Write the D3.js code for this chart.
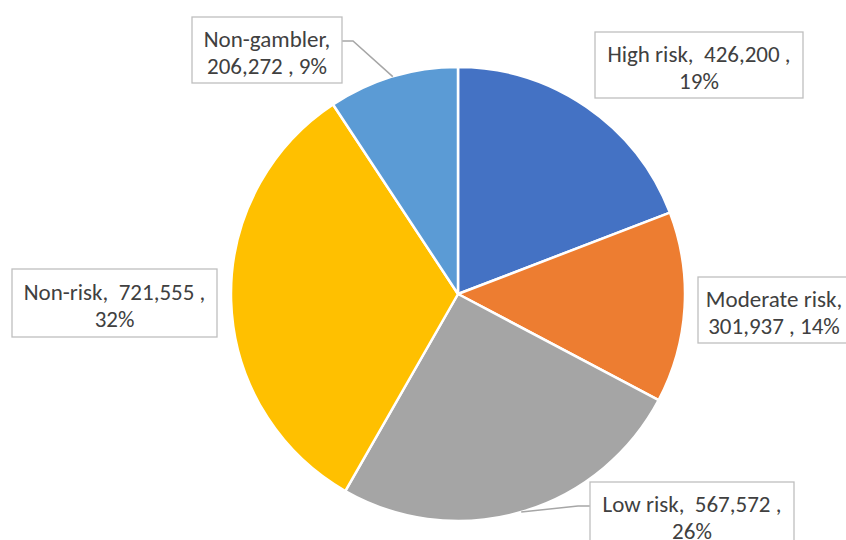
<!DOCTYPE html>
<html>
<head>
<meta charset="utf-8">
<script src="https://cdn.jsdelivr.net/npm/d3@7/dist/d3.min.js"></script>
<style>
  html, body { margin: 0; padding: 0; background: #fff; }
  svg { display: block; }
</style>
</head>
<body>
<svg id="chart" width="846" height="540"></svg>
<script>
// Gambler risk groups (people) and their slice colours
const categories = ["High risk", "Moderate risk", "Low risk", "Non-risk", "Non-gambler"];
const values = [426200, 301937, 567572, 721555, 206272];
const percentLabels = ["19%", "14%", "26%", "32%", "9%"];
const colors = ["#4472C4", "#ED7D31", "#A5A5A5", "#FFC000", "#5B9BD5"];

// Label box placement relative to the pie centre (box centre offset, size),
// and whether a leader line joins the box to its slice.
const labelLayout = [
  { dx: 241, dy: -229, w: 208, h: 66, leader: false },
  { dx: 316, dy: 16, w: 152, h: 66, leader: false },
  { dx: 234, dy: 221, w: 204, h: 66, leader: true, side: "left" },
  { dx: -343.5, dy: 9, w: 205, h: 68, leader: false },
  { dx: -191, dy: -244, w: 150, h: 66, leader: true, side: "right" }
];

const width = 846, height = 540;
const cx = 458, cy = 294, radius = 227;
const fontFamily = "Carlito, Calibri, Lato, 'Open Sans', sans-serif";
const fontSize = 23;
const lineGap = 27;

const svg = d3.select("#chart");
const fmt = d3.format(",");

const pie = d3.pie().sort(null).value(d => d)(values);
const arc = d3.arc().innerRadius(0).outerRadius(radius);

const g = svg.append("g").attr("transform", `translate(${cx},${cy})`);

g.selectAll("path.slice")
  .data(pie)
  .join("path")
  .attr("class", "slice")
  .attr("d", arc)
  .attr("fill", d => colors[d.index])
  .attr("stroke", "#fff")
  .attr("stroke-width", 2.5)
  .attr("stroke-linejoin", "round");

// Point on the rim at a slice's middle angle
function rimPoint(d) {
  const a = (d.startAngle + d.endAngle) / 2;
  return [radius * Math.sin(a), -radius * Math.cos(a)];
}

const labels = g.selectAll("g.label")
  .data(pie)
  .join("g")
  .attr("class", "label");

// Leader lines
labels.filter(d => labelLayout[d.index].leader)
  .append("path")
  .attr("fill", "none")
  .attr("stroke", "#A6A6A6")
  .attr("stroke-width", 1.5)
  .attr("d", d => {
    const L = labelLayout[d.index];
    const top = L.dy - L.h / 2;
    const yAttach = top + 24;
    const xEdge = L.side === "right" ? L.dx + L.w / 2 : L.dx - L.w / 2;
    const xElbow = L.side === "right" ? xEdge + 11 : xEdge - 12;
    const p = rimPoint(d);
    return d3.line()([[xEdge, yAttach], [xElbow, yAttach], p]);
  });

// Boxes
labels.append("rect")
  .attr("x", d => labelLayout[d.index].dx - labelLayout[d.index].w / 2)
  .attr("y", d => labelLayout[d.index].dy - labelLayout[d.index].h / 2)
  .attr("width", d => labelLayout[d.index].w)
  .attr("height", d => labelLayout[d.index].h)
  .attr("fill", "#fff")
  .attr("stroke", "#BFBFBF")
  .attr("stroke-width", 1.3);

// Two-line label text: name, value and share
function labelLines(i) {
  const name = categories[i];
  const val = fmt(values[i]);
  const pct = percentLabels[i];
  if (name === "Moderate risk" || name === "Non-gambler") {
    return [name + ",", val + " , " + pct];
  }
  return [name + ",  " + val + " ,", pct];
}

labels.each(function(d) {
  const L = labelLayout[d.index];
  const lines = labelLines(d.index);
  const t = d3.select(this).append("text")
    .attr("text-anchor", "middle")
    .attr("font-family", fontFamily)
    .attr("font-size", fontSize)
    .attr("fill", "#404040")
    .style("white-space", "pre");
  lines.forEach((s, k) => {
    t.append("tspan")
      .attr("x", L.dx)
      .attr("y", L.dy - lineGap / 2 + k * lineGap + 10.5)
      .text(s);
  });
});
</script>
</body>
</html>
